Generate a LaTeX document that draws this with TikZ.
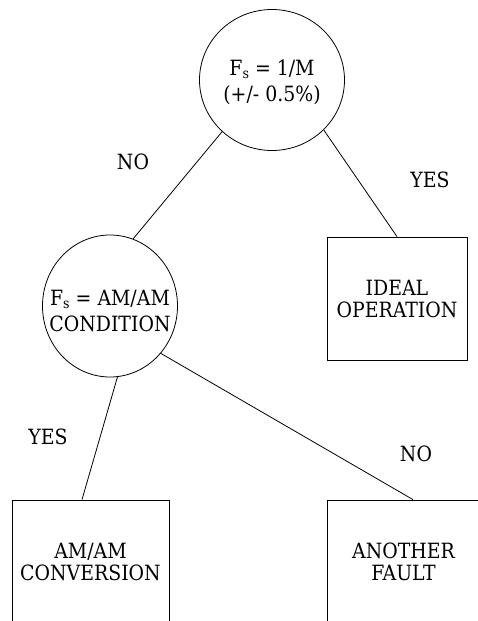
\documentclass[tikz,border=0pt]{standalone}
\usepackage{fontspec}
\setmainfont{DejaVu Serif Condensed}
\usetikzlibrary{shapes.geometric}
\newcommand{\Fsub}{F\raisebox{-3pt}{\fontsize{14}{14}\selectfont s}}
\begin{document}
\begin{tikzpicture}[x=1pt,y=-1pt,
  every node/.style={font=\fontsize{21}{22}\selectfont, align=center, inner sep=0pt},
  decision/.style={draw, ellipse, line width=0.8pt, inner xsep=-30pt, inner ysep=-10pt},
  outcome/.style={draw, rectangle, line width=0.8pt},
  link/.style={line width=0.8pt},
  lbl/.style={}]
\useasboundingbox (0,0) rectangle (478,621);
\clip (0,0) rectangle (478,621);
\node[decision, minimum width=145pt, minimum height=141pt] (top) at (272,80) {\rule{0pt}{21pt}\Fsub{} = 1/M\\[4pt](+/- 0.5\%)};
\node[decision, minimum width=135pt, minimum height=142pt] (mid) at (110,306) {\rule{0pt}{26pt}\Fsub{} = AM/AM\\[4pt]CONDITION};
\node[outcome, minimum width=140pt, minimum height=123pt] (ideal) at (397,298.5) {IDEAL\\OPERATION};
\node[outcome, minimum width=157pt, minimum height=124pt] (conv) at (90.5,562) {AM/AM\\CONVERSION};
\node[outcome, minimum width=153pt, minimum height=124pt] (fault) at (403.5,562) {ANOTHER\\FAULT};
\draw[link] (top.226) -- (mid.71);
\draw[link] (top.316) -- (ideal.north);
\draw[link] (mid.276) -- ([xshift=-8.5pt]conv.north);
\draw[link] (mid.317) -- ([xshift=9.5pt]fault.north);
\node[lbl] (no1) at (133,162) {NO};
\node[lbl] (yes1) at (430,180) {YES};
\node[lbl] (yes2) at (48,437) {YES};
\node[lbl] (no2) at (416,454) {NO};
\end{tikzpicture}
\end{document}
